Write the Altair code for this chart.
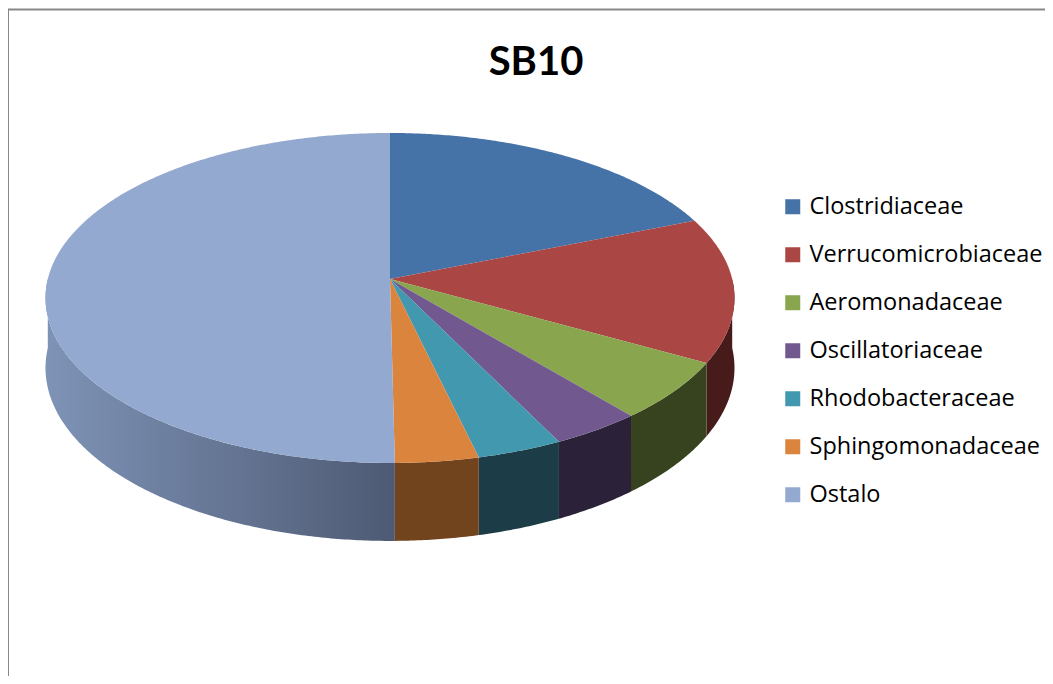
import numpy as np
import pandas as pd
import altair as alt

# ---- data ----
families = ["Clostridiaceae", "Verrucomicrobiaceae", "Aeromonadaceae",
            "Oscillatoriaceae", "Rhodobacteraceae", "Sphingomonadaceae", "Ostalo"]
shares = [18.9, 14.2, 5.8, 3.8, 3.6, 3.5, 50.2]
top_colors = ["#4572A7", "#AA4643", "#89A54E", "#71588F", "#4198AF", "#DB843D", "#93A9CF"]
side_colors = ["#2a4466", "#461b1a", "#36431e", "#2b2239", "#1c3d47", "#71441e", "#5f6f8f"]

# ---- layout (pixels within the chart) ----
W, H = 1037, 668
CX, CY = 382.0, 271.0      # centre of the pie
A, B = 342.2, 162.8        # horizontal / vertical radius
K = -0.115                 # perspective factor
DEPTH = 69.0               # thickness of the pie


def proj(theta_deg, drop=0.0):
    t = np.radians(theta_deg)
    s = np.sin(t)
    c = -np.cos(t)
    w = 1 + K * c
    return CX + A * s / w, CY + (B * c + drop) / w


tot = float(sum(shares))
bounds = np.concatenate([[0.0], np.cumsum(shares) / tot * 360.0])

top_rows, side_rows = [], []
for i, fam in enumerate(families):
    t0, t1 = bounds[i], bounds[i + 1]
    n = max(3, int((t1 - t0) * 2) + 2)
    ts = np.linspace(t0, t1, n)
    k = 0
    top_rows.append(dict(family=fam, k=k, x=CX, y=CY)); k += 1
    for t in ts:
        x, y = proj(t)
        top_rows.append(dict(family=fam, k=k, x=x, y=y)); k += 1
    # visible side (front half)
    a0, a1 = max(t0, 90.0), min(t1, 270.0)
    if a1 > a0:
        m = max(3, int((a1 - a0) * 2) + 2)
        ss = np.linspace(a0, a1, m)
        k = 0
        for t in ss:
            x, y = proj(t)
            side_rows.append(dict(family=fam, k=k, x=x, y=y)); k += 1
        for t in ss[::-1]:
            x, y = proj(t, DEPTH)
            side_rows.append(dict(family=fam, k=k, x=x, y=y)); k += 1

top_df = pd.DataFrame(top_rows)
side_df = pd.DataFrame(side_rows)

xs = alt.Scale(domain=[0, W], nice=False, zero=False)
ys = alt.Scale(domain=[0, H], nice=False, zero=False, reverse=True)
X = alt.X("x:Q", scale=xs, axis=None)
Y = alt.Y("y:Q", scale=ys, axis=None)

sides = alt.Chart(side_df).transform_filter(alt.datum.family != "Ostalo").mark_line(
    filled=True, interpolate="linear-closed", strokeWidth=0
).encode(
    x=X, y=Y,
    color=alt.Color("family:N", scale=alt.Scale(domain=families, range=side_colors), legend=None),
    order=alt.Order("k:Q"),
)

ostalo_side = alt.Chart(side_df).transform_filter(alt.datum.family == "Ostalo").mark_line(
    filled=True, interpolate="linear-closed", strokeWidth=0,
    fill=alt.Gradient(
        gradient="linear",
        stops=[alt.GradientStop(color="#7e93b6", offset=0),
               alt.GradientStop(color="#4e5a74", offset=1)],
        x1=0, x2=1, y1=0, y2=0,
    ),
).encode(x=X, y=Y, detail="family:N", order=alt.Order("k:Q"))

tops = alt.Chart(top_df).mark_line(
    filled=True, interpolate="linear-closed", strokeWidth=0
).encode(
    x=X, y=Y,
    fill=alt.Fill(
        "family:N",
        scale=alt.Scale(domain=families, range=top_colors),
        legend=alt.Legend(
            title=None, orient="none", legendX=773, legendY=187,
            symbolType="square", symbolSize=225, symbolStrokeWidth=0,
            labelFont="Open Sans", labelFontSize=23.5, labelColor="#000000",
            labelOffset=5, rowPadding=23, padding=0, labelLimit=400,
        ),
    ),
    order=alt.Order("k:Q"),
)

title = alt.Chart(pd.DataFrame({"t": ["SB10"]})).mark_text(
    font="Lato", fontSize=40, fontWeight="bold", color="#000000",
    align="center", baseline="alphabetic",
).encode(text="t:N", x=alt.value(528), y=alt.value(67))

border_top = alt.Chart(pd.DataFrame({"a": [0]})).mark_rule(color="#878787", strokeWidth=2).encode(
    x=alt.value(0), x2=alt.value(W), y=alt.value(1.5))
border_left = alt.Chart(pd.DataFrame({"a": [0]})).mark_rule(color="#878787", strokeWidth=2).encode(
    x=alt.value(0), y=alt.value(1), y2=alt.value(H))

chart = alt.layer(sides, ostalo_side, tops, title, border_top, border_left).resolve_scale(
    color="independent", fill="independent"
).properties(
    width=W, height=H, autosize=alt.AutoSizeParams(type="none"), padding=0,
    background="white",
).configure_view(strokeWidth=0)

chart.save("out.html", embed_options={"renderer": "svg", "actions": False})
